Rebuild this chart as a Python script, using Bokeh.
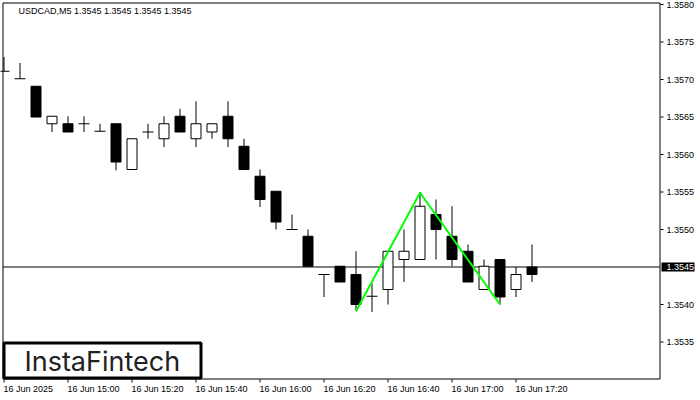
from bokeh.plotting import figure
from bokeh.models import Range1d
from bokeh.core.properties import value
from bokeh.embed import file_html
from bokeh.resources import INLINE

# ---- data (USDCAD M5) ----
opens  = [1.35711, 1.35701, 1.35691, 1.35641, 1.35641, 1.35641, 1.35631, 1.35641,
          1.35580, 1.35630, 1.35621, 1.35651, 1.35621, 1.35630, 1.35651, 1.35611,
          1.35571, 1.35551, 1.35500, 1.35491, 1.35440, 1.35451, 1.35440, 1.35411,
          1.35420, 1.35460, 1.35460, 1.35520, 1.35491, 1.35471, 1.35420, 1.35460,
          1.35420, 1.35450]
highs  = [1.35730, 1.35722, 1.35691, 1.35651, 1.35651, 1.35651, 1.35641, 1.35641,
          1.35621, 1.35641, 1.35651, 1.35661, 1.35671, 1.35641, 1.35671, 1.35621,
          1.35580, 1.35551, 1.35520, 1.35500, 1.35440, 1.35451, 1.35471, 1.35428,
          1.35471, 1.35500, 1.35550, 1.35540, 1.35531, 1.35480, 1.35460, 1.35460,
          1.35450, 1.35480]
lows   = [1.35711, 1.35701, 1.35650, 1.35630, 1.35630, 1.35630, 1.35631, 1.35579,
          1.35580, 1.35621, 1.35610, 1.35630, 1.35610, 1.35621, 1.35610, 1.35580,
          1.35530, 1.35500, 1.35500, 1.35451, 1.35410, 1.35430, 1.35392, 1.35390,
          1.35400, 1.35430, 1.35460, 1.35460, 1.35451, 1.35430, 1.35420, 1.35400,
          1.35410, 1.35430]
closes = [1.35711, 1.35701, 1.35650, 1.35651, 1.35630, 1.35641, 1.35631, 1.35590,
          1.35621, 1.35630, 1.35641, 1.35630, 1.35641, 1.35641, 1.35621, 1.35580,
          1.35540, 1.35510, 1.35500, 1.35451, 1.35440, 1.35430, 1.35400, 1.35411,
          1.35471, 1.35471, 1.35531, 1.35500, 1.35460, 1.35430, 1.35451, 1.35410,
          1.35440, 1.35440]

time_tick_index = [0, 4, 8, 12, 16, 20, 24, 28, 32]
time_tick_labels = ["16 Jun 2025", "16 Jun 15:00", "16 Jun 15:20", "16 Jun 15:40",
                    "16 Jun 16:00", "16 Jun 16:20", "16 Jun 16:40", "16 Jun 17:00",
                    "16 Jun 17:20"]
price_ticks = [1.3535, 1.3540, 1.3550, 1.3555, 1.3560, 1.3565, 1.3570, 1.3575, 1.3580]
current_price = 1.3545

pattern_x = [22, 26, 31]
pattern_y = [1.35391, 1.35549, 1.35400]

title_text = "USDCAD,M5  1.3545 1.3545 1.3545 1.3545"
logo_text = "InstaFintech"

# ---- layout helpers (pixel -> data) ----
PX_PER_BAR = 16.0
PX_PER_PRICE = 75000.0
def X(px):
    return (px - 3.5) / PX_PER_BAR
def Y(py):
    return current_price + (266.5 - py) / PX_PER_PRICE

W, H = 700, 400
p = figure(width=W, height=H, output_backend="svg", toolbar_location=None,
           x_range=Range1d(X(0), X(W)), y_range=Range1d(Y(H), Y(0)),
           x_axis_type=None, y_axis_type=None, min_border=0,
           background_fill_color="white", border_fill_color="white")
p.grid.visible = False
p.outline_line_color = None

font = value("Liberation Sans")

# chart border
p.quad(left=[X(2.5)], right=[X(659.5)], top=[Y(2.5)], bottom=[Y(378.5)],
       fill_color=None, line_color="black", line_width=1)

# current price line
p.segment(x0=[X(2.5)], y0=[current_price], x1=[X(659.5)], y1=[current_price],
          line_color="black", line_width=1)

# right price axis: ticks + labels
n = len(price_ticks)
p.segment(x0=[X(660)] * n, y0=price_ticks, x1=[X(663)] * n, y1=price_ticks,
          line_color="black", line_width=1)
p.text(x=[X(666)] * n, y=price_ticks, text=[f"{v:.4f}" for v in price_ticks],
       text_font=font, text_font_size="9px", text_color="black",
       text_align="left", text_baseline="middle")

# current price tag
p.quad(left=[X(661)], right=[X(694)], top=[Y(262)], bottom=[Y(271)],
       fill_color="black", line_color=None)
p.text(x=[X(666)], y=[current_price], text=[f"{current_price:.4f}"],
       text_font=font, text_font_size="9px", text_color="white",
       text_align="left", text_baseline="middle")

# bottom time axis: ticks + labels
m = len(time_tick_index)
p.segment(x0=time_tick_index, y0=[Y(379)] * m, x1=time_tick_index, y1=[Y(382)] * m,
          line_color="black", line_width=1)
p.text(x=[t + X(3.0) for t in time_tick_index], y=[Y(388.5)] * m, text=time_tick_labels,
       text_font=font, text_font_size="9px", text_color="black",
       text_align="left", text_baseline="middle")

# candles
idx = list(range(len(opens)))
body_w = 10 / PX_PER_BAR
p.segment(x0=idx, y0=lows, x1=idx, y1=highs, line_color="black", line_width=1)

bx, bt, bb, bc = [], [], [], []
dx, dy = [], []
for i, o, c in zip(idx, opens, closes):
    if abs(o - c) < 1e-7:
        dx.append(i); dy.append(o)
    else:
        bx.append(i); bt.append(max(o, c)); bb.append(min(o, c))
        bc.append("black" if c < o else "white")
p.vbar(x=bx, top=bt, bottom=bb, width=body_w, fill_color=bc,
       line_color="black", line_width=1)
half = 5.5 / PX_PER_BAR
p.segment(x0=[x - half for x in dx], y0=dy, x1=[x + half for x in dx], y1=dy,
          line_color="black", line_width=1)

# double-top pattern line
p.line(pattern_x, pattern_y, line_color="#00ff00", line_width=2)

# title
p.text(x=[X(18)], y=[Y(10.5)], text=[title_text], text_font=font,
       text_font_size="9px", text_color="black", text_align="left",
       text_baseline="middle")

# logo box
p.quad(left=[X(3.5)], right=[X(200.5)], top=[Y(342.5)], bottom=[Y(377.5)],
       fill_color="white", line_color="black", line_width=3)
p.text(x=[X(101.8)], y=[Y(360.5)], text=[logo_text], text_font=value("Inter"),
       text_font_size="27px", text_color="#222222", text_align="center",
       text_baseline="middle")

open("out.html", "w").write(file_html(p, INLINE))
